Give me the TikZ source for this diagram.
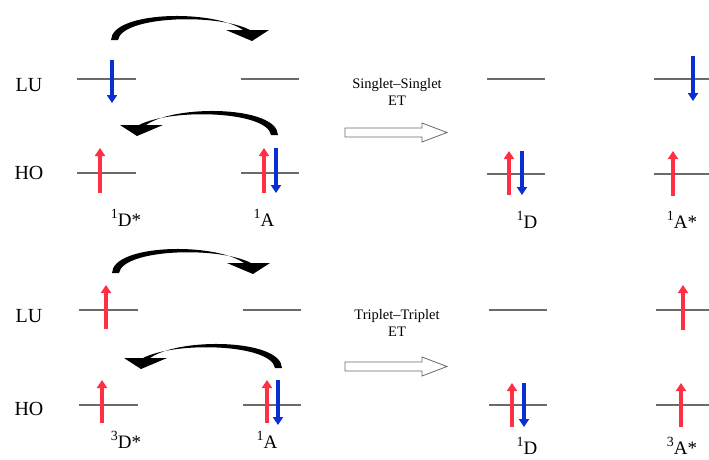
\documentclass[tikz,border=0pt]{standalone}
\usepackage{fontspec}
\setmainfont{Liberation Serif}
\usetikzlibrary{arrows.meta}
\definecolor{spinred}{HTML}{FF3043}
\definecolor{spinblue}{HTML}{0A2ED2}
\definecolor{levelgray}{HTML}{6A6A6A}
\newcommand{\spnum}[1]{\raisebox{0.42em}{\fontsize{14}{14}\selectfont #1}}
\tikzset{
  level/.style={draw=levelgray, line width=1.6pt},
  upspin/.style={draw=spinred, line width=3.6pt, -{Triangle[length=8pt,width=10pt]}},
  downspin/.style={draw=spinblue, line width=3.6pt, -{Triangle[length=8pt,width=10pt]}},
  bigtxt/.style={font=\fontsize{20}{22}\selectfont, inner sep=0pt},
  lbl/.style={font=\fontsize{19}{21}\selectfont, inner sep=0pt},
  ettxt/.style={font=\fontsize{14.5}{17}\selectfont, align=center, inner sep=0pt},
  hollow/.style={draw=levelgray, fill=white, line width=0.8pt},
  pics/etarrow/.style={code={
    \fill[black] (-4,0) .. controls (-3,-29) and (98,-31) .. (128,-10)
      -- (111,-10) -- (137,1) -- (154,-10) -- (135,-10)
      .. controls (102,-27) and (7,-24) .. (3,0) -- cycle;
  }}
}
\begin{document}
\begin{tikzpicture}[x=1pt,y=-1pt]
\useasboundingbox (0,0) rectangle (709,459);

% ===== top panel =====
\node[bigtxt] (luA) at (29,85) {LU};
\node[bigtxt] (hoA) at (29,173) {HO};
% levels
\coordinate (dLa) at (77,79);  \coordinate (dLb) at (136,79);
\coordinate (aLa) at (241,79); \coordinate (aLb) at (299,79);
\coordinate (dHa) at (77,173); \coordinate (dHb) at (136,173);
\coordinate (aHa) at (241,173);\coordinate (aHb) at (299,173);
\coordinate (rdLa) at (487,79); \coordinate (rdLb) at (545,79);
\coordinate (raLa) at (654,79); \coordinate (raLb) at (709,79);
\coordinate (rdHa) at (487,174); \coordinate (rdHb) at (545,174);
\coordinate (raHa) at (654,174); \coordinate (raHb) at (709,174);
\foreach \a/\b in {dLa/dLb,aLa/aLb,dHa/dHb,aHa/aHb,rdLa/rdLb,raLa/raLb,rdHa/rdHb,raHa/raHb}
  \draw[level] (\a) -- (\b);
% spins
\coordinate (s1a) at (112,60);  \coordinate (s1b) at (112,103);
\draw[downspin] (s1a) -- (s1b);
\coordinate (s2a) at (100,193); \coordinate (s2b) at (100,148);
\draw[upspin] (s2a) -- (s2b);
\coordinate (s3a) at (264,193); \coordinate (s3b) at (264,148);
\draw[upspin] (s3a) -- (s3b);
\coordinate (s4a) at (276,148); \coordinate (s4b) at (276,193);
\draw[downspin] (s4a) -- (s4b);
\coordinate (s5a) at (509,195); \coordinate (s5b) at (509,151);
\draw[upspin] (s5a) -- (s5b);
\coordinate (s6a) at (522,151); \coordinate (s6b) at (522,195);
\draw[downspin] (s6a) -- (s6b);
\coordinate (s7a) at (693,56); \coordinate (s7b) at (693,101);
\draw[downspin] (s7a) -- (s7b);
\coordinate (s8a) at (673,196); \coordinate (s8b) at (673,151);
\draw[upspin] (s8a) -- (s8b);
% labels
\node[lbl] (l1) at (126,218) {\spnum{1}D*};
\node[lbl] (l2) at (264,218) {\spnum{1}A};
\node[lbl] (l3) at (527,220) {\spnum{1}D};
\node[lbl] (l4) at (682,220) {\spnum{1}A*};
% transfer arrows
\coordinate (t1a) at (115,40); \coordinate (t1b) at (252,40);
\pic at (t1a) {etarrow};
\coordinate (t2a) at (274,135); \coordinate (t2b) at (137,135);
\pic[xscale=-1] at (t2a) {etarrow};
% ET
\node[ettxt] (et1) at (397,92) {Singlet–Singlet\\ET};
\draw[hollow] (345,128) -- (422,128) -- (422,123) -- (447,132.5) -- (422,142) -- (422,137) -- (345,137) -- cycle;

% ===== bottom panel =====
\node[bigtxt] (luB) at (29,316) {LU};
\node[bigtxt] (hoB) at (29,409) {HO};
\coordinate (DLa) at (79,310);  \coordinate (DLb) at (138,310);
\coordinate (ALa) at (243,310); \coordinate (ALb) at (301,310);
\coordinate (DHa) at (79,405);  \coordinate (DHb) at (138,405);
\coordinate (AHa) at (243,405); \coordinate (AHb) at (301,405);
\coordinate (RdLa) at (489,310); \coordinate (RdLb) at (547,310);
\coordinate (RaLa) at (656,310); \coordinate (RaLb) at (709,310);
\coordinate (RdHa) at (489,405); \coordinate (RdHb) at (547,405);
\coordinate (RaHa) at (656,405); \coordinate (RaHb) at (709,405);
\foreach \a/\b in {DLa/DLb,ALa/ALb,DHa/DHb,AHa/AHb,RdLa/RdLb,RaLa/RaLb,RdHa/RdHb,RaHa/RaHb}
  \draw[level] (\a) -- (\b);
\coordinate (u1a) at (106,329); \coordinate (u1b) at (106,285);
\draw[upspin] (u1a) -- (u1b);
\coordinate (u2a) at (102,423); \coordinate (u2b) at (102,380);
\draw[upspin] (u2a) -- (u2b);
\coordinate (u3a) at (267,423); \coordinate (u3b) at (267,380);
\draw[upspin] (u3a) -- (u3b);
\coordinate (u4a) at (278,380); \coordinate (u4b) at (278,425);
\draw[downspin] (u4a) -- (u4b);
\coordinate (u5a) at (512,427); \coordinate (u5b) at (512,383);
\draw[upspin] (u5a) -- (u5b);
\coordinate (u6a) at (524,383); \coordinate (u6b) at (524,427);
\draw[downspin] (u6a) -- (u6b);
\coordinate (u7a) at (683,330); \coordinate (u7b) at (683,285);
\draw[upspin] (u7a) -- (u7b);
\coordinate (u8a) at (681,427); \coordinate (u8b) at (681,383);
\draw[upspin] (u8a) -- (u8b);
\node[lbl] (m1) at (126,440) {\spnum{3}D*};
\node[lbl] (m2) at (267,440) {\spnum{1}A};
\node[lbl] (m3) at (527,446) {\spnum{1}D};
\node[lbl] (m4) at (682,446) {\spnum{3}A*};
\coordinate (v1a) at (116,273); \coordinate (v1b) at (253,272);
\pic at (v1a) {etarrow};
\coordinate (v2a) at (278,368); \coordinate (v2b) at (140,368);
\pic[xscale=-1] at (v2a) {etarrow};
\node[ettxt] (et2) at (397,323) {Triplet–Triplet\\ET};
\draw[hollow] (345,362) -- (422,362) -- (422,357) -- (447,366.5) -- (422,376) -- (422,371) -- (345,371) -- cycle;
\end{tikzpicture}
\end{document}
